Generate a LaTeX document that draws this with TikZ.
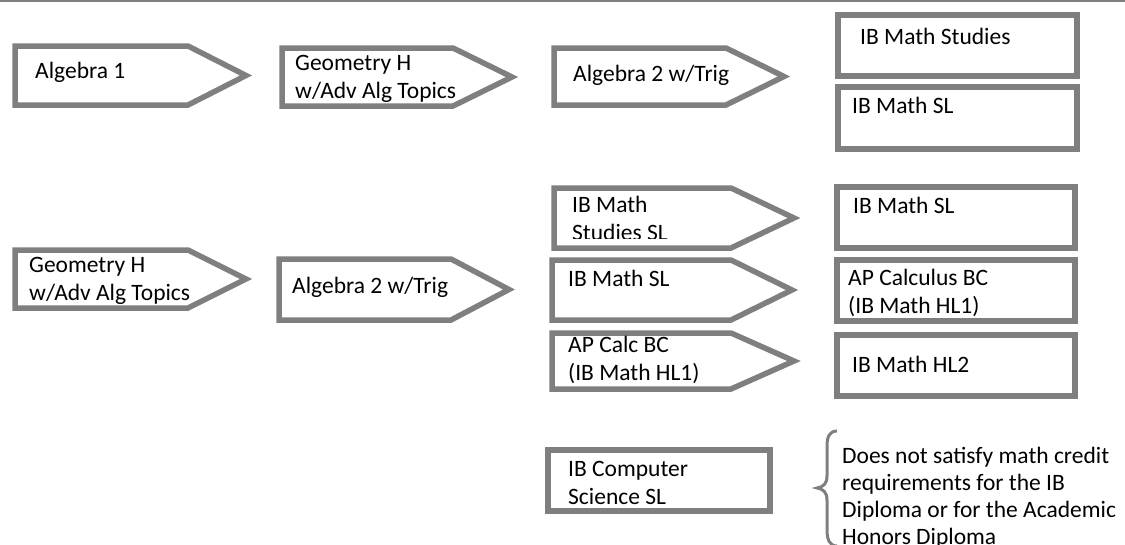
\documentclass[tikz,border=0pt]{standalone}
\usepackage{fontspec}
\setmainfont{Carlito}
\definecolor{bordergray}{HTML}{7F7F7F}
\tikzset{
  shapeline/.style={draw=bordergray, line width=5.5pt, line join=miter, fill=white},
  lbl/.style={anchor=base west, inner sep=0pt, align=left, font=\fontsize{23.5}{28}\selectfont},
  bracestyle/.style={draw=bordergray, line width=3pt},
}
% #1 left, #2 top, #3 bottom, #4 shoulder, #5 tip
\newcommand\chevshape[5]{%
  \draw[shapeline] (#1,#2) -- (#4,#2) -- (#5,{(#2+#3)/2}) -- (#4,#3) -- (#1,#3) -- cycle;}
% #1 left, #2 top, #3 right, #4 bottom
\newcommand\boxshape[4]{%
  \draw[shapeline] (#1,#2) rectangle (#3,#4);}
\begin{document}
\begin{tikzpicture}[x=1pt,y=-1pt]
\useasboundingbox (0,0) rectangle (1125,544);
\fill[bordergray] (0,0) rectangle (1125,2.3);

% ---- top row ----
\chevshape{15}{46}{105}{188}{246}
\node[lbl] (alg1) at (35,78) {Algebra 1};
\chevshape{282}{48}{106}{453}{512}
\node[lbl] (geoA) at (295,98) {Geometry H\\w/Adv Alg Topics};
\chevshape{554}{48}{105}{726}{784}
\node[lbl] (algA) at (573,81) {Algebra 2 w/Trig};
\boxshape{838}{15}{1077}{76}
\node[lbl] (ibmsA) at (860,44) {IB Math Studies};
\boxshape{838}{87}{1077}{149}
\node[lbl] (ibslA) at (852,113) {IB Math SL};

% ---- bottom group ----
\chevshape{15}{250}{308}{188}{246}
\node[lbl] (geoB) at (29,300) {Geometry H\\w/Adv Alg Topics};
\chevshape{279}{259}{320}{451}{509}
\node[lbl] (algB) at (292,293) {Algebra 2 w/Trig};

\chevshape{554}{188}{248}{731}{794}
\begin{scope}
  \clip (556,190) rectangle (730,238.5);
  \node[lbl] (ibmsB) at (572,240.5) {IB Math\\Studies SL};
\end{scope}
\chevshape{552}{260}{320}{731}{792}
\node[lbl] (ibslB) at (568,286) {IB Math SL};
\chevshape{552}{333}{389}{731}{794}
\begin{scope}
  \clip (554,330) rectangle (730,383);
  \node[lbl] (apB) at (568,380) {AP Calc BC\\(IB Math HL1)};
\end{scope}

\boxshape{837}{187}{1075}{248}
\node[lbl] (ibslC) at (853,213) {IB Math SL};
\boxshape{837}{260}{1075}{321}
\node[lbl] (apC) at (848,313) {AP Calculus BC\\(IB Math HL1)};
\boxshape{837}{335}{1075}{396}
\node[lbl] (hl2C) at (852,372) {IB Math HL2};

\boxshape{548}{450}{770}{511}
\node[lbl] (ibcs) at (568,504) {IB Computer\\Science SL};

% brace and note
\coordinate (brTop) at (837,431);
\coordinate (brCusp) at (817,488);
\coordinate (brBot) at (837,546);
\draw[bracestyle] (brTop) .. controls (830,431) and (827,436) .. (827,446) -- (827,476)
  .. controls (827,484) and (823,487) .. (brCusp)
  .. controls (823,489) and (827,492) .. (827,500) -- (827,530)
  .. controls (827,540) and (830,546) .. (brBot);
\node[lbl, font=\fontsize{23.5}{27}\selectfont] (note) at (842,544)
  {Does not satisfy math credit\\requirements for the IB\\Diploma or for the Academic\\Honors Diploma};
\end{tikzpicture}
\end{document}
